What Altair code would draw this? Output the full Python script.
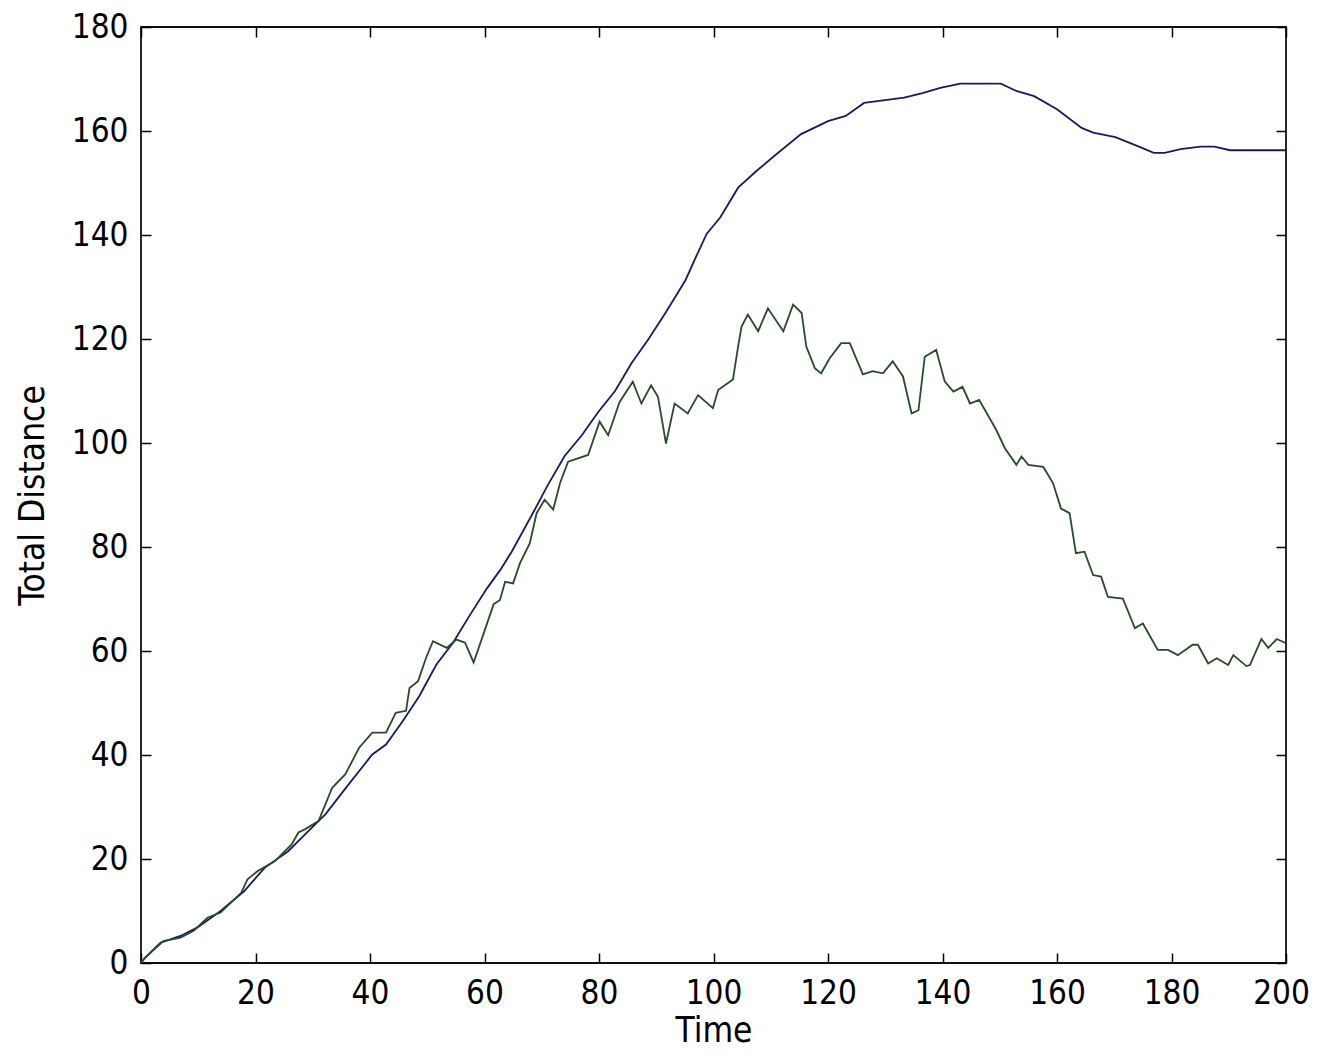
import altair as alt
import pandas as pd

# ---- data ----
blue_t = [0, 0.7, 3.4, 6.9, 9.8, 13.9, 18, 21.6, 25.7, 29.8, 32.2, 36.3, 40.4, 42.8, 45.7,
          48.6, 51.6, 54.5, 57.5, 60.4, 62.7, 64.7, 68.2, 71.1, 74, 77, 79.9, 82.8, 85.7,
          88.6, 91.6, 95.1, 96.9, 98.8, 101.2, 104.3, 107.5, 110.6, 115.3, 120, 123.1,
          126.3, 133.3, 136.5, 139.6, 143.1, 150.2, 152.9, 156, 160, 164.3, 166.3, 170.2,
          174.1, 176.9, 178.8, 181.6, 185.1, 187.5, 190.2, 200]
blue_v = [0, 1, 3.9, 5.2, 6.8, 10, 13.8, 18.3, 21.5, 26, 28.6, 34.4, 40.1, 42, 46.5,
          51.3, 57.4, 61.6, 67, 72, 75.5, 79, 86, 92, 97.5, 101.5, 106, 110, 115.4,
          119.9, 125, 131.3, 135.7, 140.2, 143.4, 149.1, 152.3, 155.2, 159.4, 161.9, 162.9,
          165.4, 166.4, 167.3, 168.3, 169.1, 169.1, 167.7, 166.7, 164.2, 160.6, 159.7, 158.8,
          157.1, 155.8, 155.8, 156.5, 157, 157, 156.3, 156.3]

green_t = [0, 0.7, 3.9, 6.9, 9.2, 11.6, 13.9, 17.5, 18.6, 20.4, 23.4, 26.3, 27.5, 28.6, 31,
           33.4, 35.7, 38.1, 40.4, 42.8, 44.5, 46.3, 46.9, 48.4, 49.8, 51, 53.4, 55.1, 56.6,
           58.1, 59.8, 61.6, 62.7, 63.6, 65, 66.2, 67.9, 69.1, 70.5, 72, 73.2, 74.6, 78.1,
           80.1, 81.6, 83.6, 85.9, 87.4, 89.1, 90.3, 91.7, 93.2, 95.5, 97.3, 99.9, 100.8,
           103.4, 104.3, 104.9, 106, 107.8, 109.5, 112.2, 113.9, 115.4, 116.2, 117.7, 118.8,
           120.3, 122.3, 123.8, 126.1, 127.8, 129.6, 131.3, 133.1, 134.6, 135.8, 136.9,
           138.9, 140.4, 141.9, 143.5, 144.8, 146.4, 149.4, 150.9, 152.9, 153.8, 155, 157.6,
           159.3, 160.7, 162.2, 163.3, 164.8, 166.3, 167.7, 168.9, 171.5, 173.6, 175, 177.6,
           179.4, 181.1, 183.7, 184.6, 186.4, 187.9, 189.9, 190.8, 193.1, 193.7, 195.7,
           196.9, 198.4, 200]
green_v = [0, 1, 4.2, 4.9, 6.2, 8.7, 9.7, 13.5, 16.1, 17.7, 19.6, 22.8, 25.1, 25.7, 27.3,
           33.7, 36.3, 41.4, 44.3, 44.3, 48.1, 48.5, 52.9, 54.2, 58.7, 61.9, 60.6, 62.2, 61.6,
           57.8, 63.2, 69, 69.8, 73.3, 73, 76.9, 80.7, 86.5, 89.1, 87.2, 92.3, 96.4, 97.7,
           104.1, 101.5, 107.9, 111.8, 107.6, 111.1, 108.9, 99.9, 107.6, 105.7, 109.2, 106.7,
           110.2, 112.2, 118.6, 122.4, 124.7, 121.5, 125.9, 121.5, 126.6, 125, 118.6, 114.4,
           113.4, 116.3, 119.2, 119.2, 113.2, 113.8, 113.4, 115.7, 112.8, 105.7, 106.3,
           116.6, 117.9, 111.8, 109.9, 110.8, 107.6, 108.3, 102.5, 99, 95.8, 97.4, 95.8,
           95.4, 92.3, 87.4, 86.5, 78.8, 79.1, 74.6, 74.3, 70.4, 70.1, 64.4, 65.3, 60.2,
           60.2, 59.2, 61.2, 61.2, 57.6, 58.6, 57.3, 59.2, 57.1, 57.3, 62.3, 60.6, 62.3, 61.5]

x_ticks = [0, 20, 40, 60, 80, 100, 120, 140, 160, 180, 200]
y_ticks = [0, 20, 40, 60, 80, 100, 120, 140, 160, 180]
series_names = ["blue", "green"]
series_colors = ["#1a1a60", "#294a29"]

rows = [{"t": t, "v": v, "s": "blue", "o": i} for i, (t, v) in enumerate(zip(blue_t, blue_v))]
rows += [{"t": t, "v": v, "s": "green", "o": i} for i, (t, v) in enumerate(zip(green_t, green_v))]
df = pd.DataFrame(rows)

W, H = 1145, 936
FONT = "'Liberation Sans Narrow', 'Arial Narrow', 'DejaVu Sans Condensed', 'Liberation Sans', Arial, sans-serif"
LS = 33
TS = 35

xs = alt.Scale(domain=[0, 200], nice=False, zero=False)
ys = alt.Scale(domain=[0, 180], nice=False, zero=False)
col = alt.Color("s:N", scale=alt.Scale(domain=series_names, range=series_colors), legend=None)

main = alt.Chart(df).mark_line(strokeWidth=1.8).encode(
    x=alt.X("t:Q", scale=xs, axis=alt.Axis(
        orient="bottom", values=x_ticks, ticks=False, tickSize=0, domain=False, grid=False,
        labelFont=FONT, labelFontSize=LS, labelColor="black", labelPadding=14,
        labelFlush=False, labelOverlap=False,
        labelOffset={"condition": {"test": "datum.value == 200", "value": -5}, "value": 0},
        title="Time", titleFont=FONT, titleFontSize=TS, titleFontWeight="normal",
        titleColor="black", titleBaseline="alphabetic", titleY=78, titleX=W / 2)),
    y=alt.Y("v:Q", scale=ys, axis=alt.Axis(
        orient="left", values=y_ticks, ticks=False, tickSize=0, domain=False, grid=False,
        labelFont=FONT, labelFontSize=LS, labelColor="black", labelPadding=13,
        labelFlush=False, labelOverlap=False,
        title="Total Distance", titleFont=FONT, titleFontSize=TS, titleFontWeight="normal",
        titleColor="black", titleAngle=270, titleBaseline="alphabetic",
        titleX=-98, titleY=H / 2)),
    color=col,
    order="o:Q",
    detail="s:N",
)

def tick_axis(orient, values, offset):
    return alt.Axis(orient=orient, values=values, labels=False, domain=False, grid=False,
                    ticks=True, tickSize=10, tickWidth=1.5, tickColor="black",
                    title=None, offset=offset)

# inward ticks on bottom and left edges
ticks_a = alt.Chart(df).mark_line(opacity=0).encode(
    x=alt.X("t:Q", scale=xs, axis=tick_axis("top", x_ticks, -H)),
    y=alt.Y("v:Q", scale=ys, axis=tick_axis("right", y_ticks, -W)),
    detail="s:N",
)
# inward ticks on top and right edges
ticks_b = alt.Chart(df).mark_line(opacity=0).encode(
    x=alt.X("t:Q", scale=xs, axis=tick_axis("bottom", x_ticks, -H)),
    y=alt.Y("v:Q", scale=ys, axis=tick_axis("left", y_ticks, -W)),
    detail="s:N",
)

chart = alt.layer(main, ticks_a, ticks_b).resolve_axis(
    x="independent", y="independent"
).properties(
    width=W, height=H,
    autosize=alt.AutoSizeParams(type="none"),
    padding={"left": 133, "top": 19, "right": 23, "bottom": 86},
    background="white",
).configure_view(
    stroke="#111111", strokeWidth=1.8
)

chart.save("out.html", embed_options={"renderer": "svg", "actions": False})
